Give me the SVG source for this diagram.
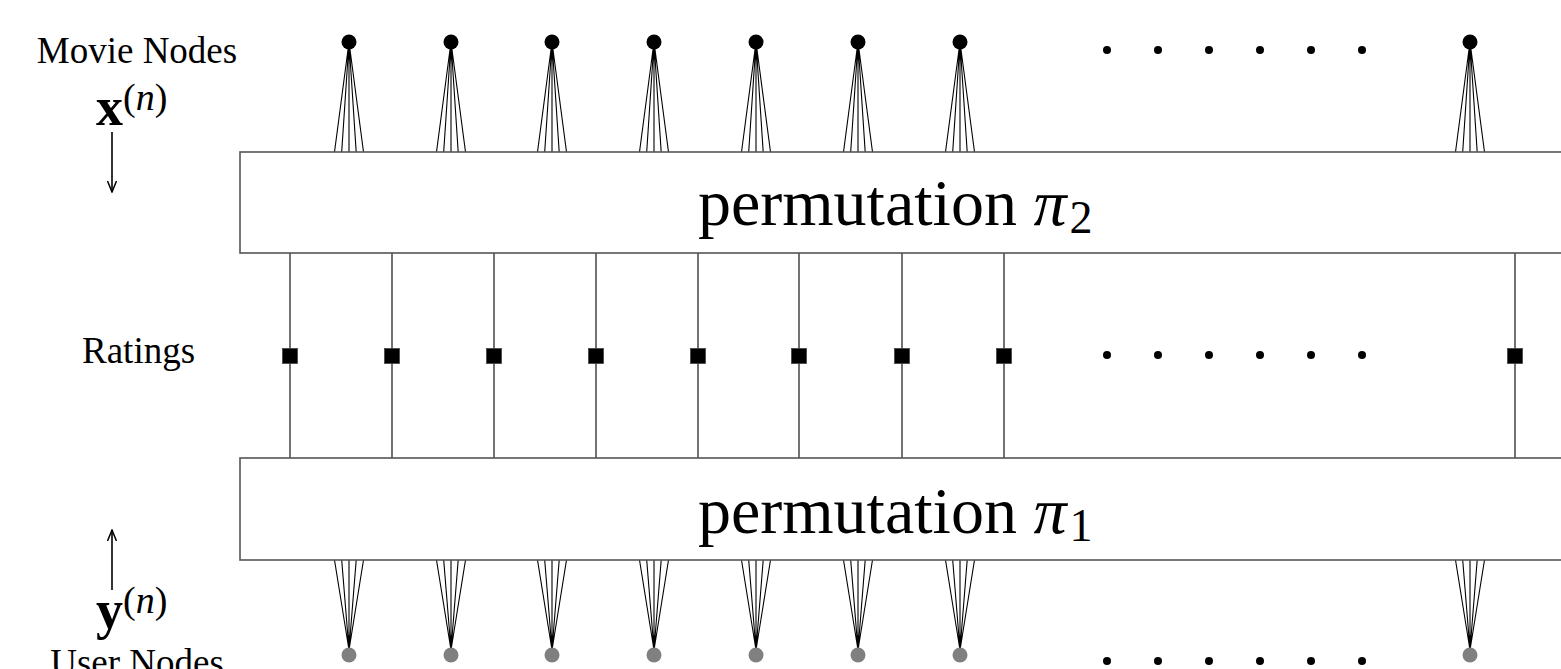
<svg xmlns="http://www.w3.org/2000/svg" width="1561" height="669" viewBox="0 0 1561 669">
<defs>
<style>
.box{fill:#fff;stroke:#555;stroke-width:1.6}
.ln{stroke:#000;stroke-width:1.1;fill:none}
.arr{stroke:#000;stroke-width:1.6;fill:none}
.mv{fill:#000}
.us{fill:#808080}
.dot{fill:#000}
.sq{fill:#000;stroke:#444;stroke-width:0.8}
.lbl{font-family:"Liberation Serif","Times New Roman",serif;fill:#000}
</style>
<marker id="ah" viewBox="0 0 12 12" refX="11" refY="6" markerWidth="12" markerHeight="12" markerUnits="userSpaceOnUse" orient="auto">
<path d="M0,1.5 L11,6 L0,10.5" fill="none" stroke="#000" stroke-width="1.5"/>
</marker>
</defs>
<rect width="1561" height="669" fill="#fff"/>

<g id="connectors">
<g class="ln">
<path d="M334.5,152 L349,42 M341.7,152 L349,42 M349,152 L349,42 M356.2,152 L349,42 M363.5,152 L349,42"/>
<path d="M436.5,152 L451,42 M443.7,152 L451,42 M451,152 L451,42 M458.2,152 L451,42 M465.5,152 L451,42"/>
<path d="M537.5,152 L552,42 M544.7,152 L552,42 M552,152 L552,42 M559.2,152 L552,42 M566.5,152 L552,42"/>
<path d="M639.5,152 L654,42 M646.7,152 L654,42 M654,152 L654,42 M661.2,152 L654,42 M668.5,152 L654,42"/>
<path d="M741.5,152 L756,42 M748.7,152 L756,42 M756,152 L756,42 M763.2,152 L756,42 M770.5,152 L756,42"/>
<path d="M843.5,152 L858,42 M850.7,152 L858,42 M858,152 L858,42 M865.2,152 L858,42 M872.5,152 L858,42"/>
<path d="M945.5,152 L960,42 M952.7,152 L960,42 M960,152 L960,42 M967.2,152 L960,42 M974.5,152 L960,42"/>
<path d="M1455.5,152 L1470,42 M1462.7,152 L1470,42 M1470,152 L1470,42 M1477.2,152 L1470,42 M1484.5,152 L1470,42"/>
</g>
<g class="ln">
<path d="M334.5,560 L349,650 M341.7,560 L349,650 M349,560 L349,650 M356.2,560 L349,650 M363.5,560 L349,650"/>
<path d="M436.5,560 L451,650 M443.7,560 L451,650 M451,560 L451,650 M458.2,560 L451,650 M465.5,560 L451,650"/>
<path d="M537.5,560 L552,650 M544.7,560 L552,650 M552,560 L552,650 M559.2,560 L552,650 M566.5,560 L552,650"/>
<path d="M639.5,560 L654,650 M646.7,560 L654,650 M654,560 L654,650 M661.2,560 L654,650 M668.5,560 L654,650"/>
<path d="M741.5,560 L756,650 M748.7,560 L756,650 M756,560 L756,650 M763.2,560 L756,650 M770.5,560 L756,650"/>
<path d="M843.5,560 L858,650 M850.7,560 L858,650 M858,560 L858,650 M865.2,560 L858,650 M872.5,560 L858,650"/>
<path d="M945.5,560 L960,650 M952.7,560 L960,650 M960,560 L960,650 M967.2,560 L960,650 M974.5,560 L960,650"/>
<path d="M1455.5,560 L1470,650 M1462.7,560 L1470,650 M1470,560 L1470,650 M1477.2,560 L1470,650 M1484.5,560 L1470,650"/>
</g>
<g class="ln">
<path d="M290,253 V458 M392,253 V458 M494,253 V458 M596,253 V458 M698,253 V458 M799,253 V458 M902,253 V458 M1004,253 V458 M1515,253 V458"/>
</g>
<line class="arr" x1="112" y1="132" x2="112" y2="192" marker-end="url(#ah)"/>
<line class="arr" x1="112" y1="590" x2="112" y2="530" marker-end="url(#ah)"/>
</g>

<g id="perm2">
<rect class="box" x="240" y="152" width="1400" height="101"/>
<text class="lbl" x="698" y="225" font-size="66">permutation <tspan font-style="italic">π</tspan><tspan font-size="46" dx="3" dy="8">2</tspan></text>
</g>
<g id="perm1">
<rect class="box" x="240" y="458" width="1400" height="102"/>
<text class="lbl" x="698" y="533" font-size="66">permutation <tspan font-style="italic">π</tspan><tspan font-size="46" dx="3" dy="8">1</tspan></text>
</g>

<g id="movie-nodes">
<circle class="mv" cx="349" cy="42" r="7.5"/>
<circle class="mv" cx="451" cy="42" r="7.5"/>
<circle class="mv" cx="552" cy="42" r="7.5"/>
<circle class="mv" cx="654" cy="42" r="7.5"/>
<circle class="mv" cx="756" cy="42" r="7.5"/>
<circle class="mv" cx="858" cy="42" r="7.5"/>
<circle class="mv" cx="960" cy="42" r="7.5"/>
<circle class="mv" cx="1470" cy="42" r="7.5"/>
<g class="dot">
<circle cx="1107" cy="50" r="4"/><circle cx="1158" cy="50" r="4"/><circle cx="1209" cy="50" r="4"/><circle cx="1260" cy="50" r="4"/><circle cx="1311" cy="50" r="4"/><circle cx="1362" cy="50" r="4"/>
</g>
</g>

<g id="ratings">
<rect class="sq" x="282.5" y="348.5" width="15" height="15"/>
<rect class="sq" x="384.5" y="348.5" width="15" height="15"/>
<rect class="sq" x="486.5" y="348.5" width="15" height="15"/>
<rect class="sq" x="588.5" y="348.5" width="15" height="15"/>
<rect class="sq" x="690.5" y="348.5" width="15" height="15"/>
<rect class="sq" x="791.5" y="348.5" width="15" height="15"/>
<rect class="sq" x="894.5" y="348.5" width="15" height="15"/>
<rect class="sq" x="996.5" y="348.5" width="15" height="15"/>
<rect class="sq" x="1507.5" y="348.5" width="15" height="15"/>
<g class="dot">
<circle cx="1107" cy="355" r="4"/><circle cx="1158" cy="355" r="4"/><circle cx="1209" cy="355" r="4"/><circle cx="1260" cy="355" r="4"/><circle cx="1311" cy="355" r="4"/><circle cx="1362" cy="355" r="4"/>
</g>
</g>

<g id="user-nodes">
<circle class="us" cx="349" cy="655" r="7.5"/>
<circle class="us" cx="451" cy="655" r="7.5"/>
<circle class="us" cx="552" cy="655" r="7.5"/>
<circle class="us" cx="654" cy="655" r="7.5"/>
<circle class="us" cx="756" cy="655" r="7.5"/>
<circle class="us" cx="858" cy="655" r="7.5"/>
<circle class="us" cx="960" cy="655" r="7.5"/>
<circle class="us" cx="1470" cy="655" r="7.5"/>
<g class="dot">
<circle cx="1107" cy="661" r="4"/><circle cx="1158" cy="661" r="4"/><circle cx="1209" cy="661" r="4"/><circle cx="1260" cy="661" r="4"/><circle cx="1311" cy="661" r="4"/><circle cx="1362" cy="661" r="4"/>
</g>
</g>

<g id="labels">
<text class="lbl" x="137" y="63" font-size="37" text-anchor="middle">Movie Nodes</text>
<text class="lbl" x="96" y="125" font-size="54" font-weight="bold">x<tspan font-size="38" font-weight="normal" dy="-15">(<tspan font-style="italic">n</tspan>)</tspan></text>
<text class="lbl" x="82" y="363" font-size="37">Ratings</text>
<text class="lbl" x="96" y="628" font-size="54" font-weight="bold">y<tspan font-size="38" font-weight="normal" dy="-15">(<tspan font-style="italic">n</tspan>)</tspan></text>
<text class="lbl" x="137" y="675" font-size="37" text-anchor="middle">User Nodes</text>
</g>
</svg>
